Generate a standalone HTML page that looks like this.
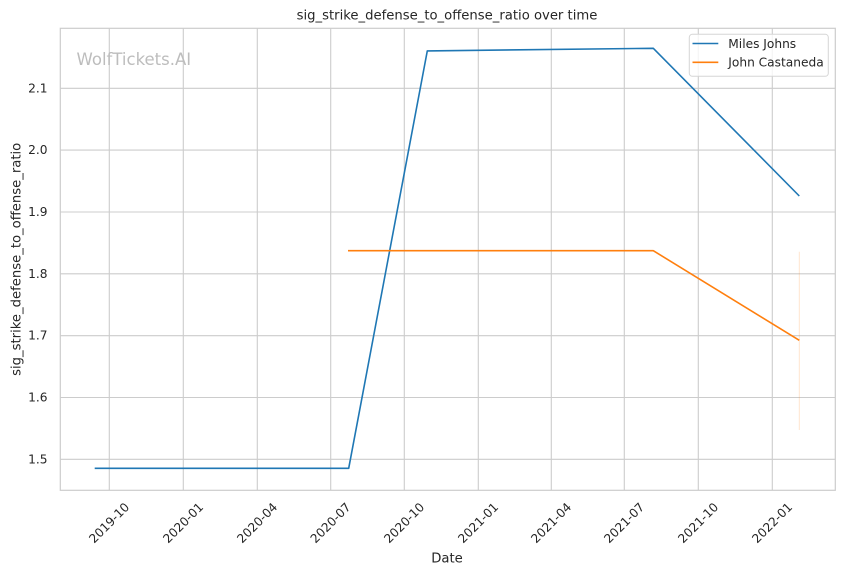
<!DOCTYPE html>
<html>
<head>
<meta charset="utf-8">
<style>
  html, body { margin: 0; padding: 0; background: #ffffff; }
  svg { display: block; }
  text { font-family: "DejaVu Sans", "Liberation Sans", sans-serif; fill: #262626; }
</style>
</head>
<body>
<svg width="844" height="575" viewBox="0 0 844 575" xmlns="http://www.w3.org/2000/svg">
  <rect x="0" y="0" width="844" height="575" fill="#ffffff"/>

  <!-- grid -->
  <g stroke="#cccccc" stroke-width="1.1" fill="none">
    <line x1="109.3" y1="28.3" x2="109.3" y2="490.3"/>
    <line x1="183.3" y1="28.3" x2="183.3" y2="490.3"/>
    <line x1="257.3" y1="28.3" x2="257.3" y2="490.3"/>
    <line x1="330.7" y1="28.3" x2="330.7" y2="490.3"/>
    <line x1="404.3" y1="28.3" x2="404.3" y2="490.3"/>
    <line x1="478.3" y1="28.3" x2="478.3" y2="490.3"/>
    <line x1="551.3" y1="28.3" x2="551.3" y2="490.3"/>
    <line x1="624.3" y1="28.3" x2="624.3" y2="490.3"/>
    <line x1="698.3" y1="28.3" x2="698.3" y2="490.3"/>
    <line x1="772.3" y1="28.3" x2="772.3" y2="490.3"/>

    <line x1="60.3" y1="88.3" x2="835.3" y2="88.3"/>
    <line x1="60.3" y1="150.1" x2="835.3" y2="150.1"/>
    <line x1="60.3" y1="212" x2="835.3" y2="212"/>
    <line x1="60.3" y1="273.8" x2="835.3" y2="273.8"/>
    <line x1="60.3" y1="335.7" x2="835.3" y2="335.7"/>
    <line x1="60.3" y1="397.5" x2="835.3" y2="397.5"/>
    <line x1="60.3" y1="459.3" x2="835.3" y2="459.3"/>
  </g>

  <!-- watermark -->
  <text x="76.5" y="65" font-size="16.5" style="fill:#bdbdbd">WolfTickets.AI</text>

  <!-- faint band -->
  <line x1="799.3" y1="251.7" x2="799.3" y2="430" stroke="#ff7f0e" stroke-opacity="0.2" stroke-width="1"/>

  <!-- series -->
  <polyline fill="none" stroke="#1f77b4" stroke-width="1.6" stroke-linejoin="round"
    points="94.7,468.3 348.7,468.3 427.3,50.9 653.3,48.3 799.3,196"/>
  <polyline fill="none" stroke="#ff7f0e" stroke-width="1.6" stroke-linejoin="round"
    points="348,250.7 653.3,250.7 799.3,340.3"/>

  <!-- spines -->
  <rect x="60.3" y="28.3" width="775" height="462" fill="none" stroke="#cccccc" stroke-width="1.2"/>

  <!-- y tick labels -->
  <g font-size="12.2" text-anchor="end" dominant-baseline="central">
    <text x="47.5" y="88.3">2.1</text>
    <text x="47.5" y="150.1">2.0</text>
    <text x="47.5" y="212">1.9</text>
    <text x="47.5" y="273.8">1.8</text>
    <text x="47.5" y="335.7">1.7</text>
    <text x="47.5" y="397.5">1.6</text>
    <text x="47.5" y="459.3">1.5</text>
  </g>

  <!-- x tick labels -->
  <g font-size="12.2" text-anchor="middle" dominant-baseline="central">
    <text x="109.3" y="523" transform="rotate(-45 109.3 523)">2019-10</text>
    <text x="183.3" y="523" transform="rotate(-45 183.3 523)">2020-01</text>
    <text x="257.3" y="523" transform="rotate(-45 257.3 523)">2020-04</text>
    <text x="330.7" y="523" transform="rotate(-45 330.7 523)">2020-07</text>
    <text x="404.3" y="523" transform="rotate(-45 404.3 523)">2020-10</text>
    <text x="478.3" y="523" transform="rotate(-45 478.3 523)">2021-01</text>
    <text x="551.3" y="523" transform="rotate(-45 551.3 523)">2021-04</text>
    <text x="624.3" y="523" transform="rotate(-45 624.3 523)">2021-07</text>
    <text x="698.3" y="523" transform="rotate(-45 698.3 523)">2021-10</text>
    <text x="772.3" y="523" transform="rotate(-45 772.3 523)">2022-01</text>
  </g>

  <!-- axis labels -->
  <text x="447" y="562.5" font-size="13.2" text-anchor="middle">Date</text>
  <text x="0" y="0" font-size="13.2" text-anchor="middle" transform="translate(20.5 259.3) rotate(-90)">sig_strike_defense_to_offense_ratio</text>

  <!-- title -->
  <text x="447" y="19.5" font-size="13.2" text-anchor="middle">sig_strike_defense_to_offense_ratio over time</text>

  <!-- legend -->
  <rect x="689.3" y="34.3" width="139" height="42" rx="3" ry="3" fill="#ffffff" fill-opacity="0.8" stroke="#d6d6d6" stroke-width="1"/>
  <line x1="692.5" y1="43.5" x2="718.3" y2="43.5" stroke="#1f77b4" stroke-width="1.6"/>
  <line x1="692.5" y1="62.3" x2="718.3" y2="62.3" stroke="#ff7f0e" stroke-width="1.6"/>
  <g font-size="12.2" dominant-baseline="central">
    <text x="728.3" y="43.8">Miles Johns</text>
    <text x="728.3" y="62.6">John Castaneda</text>
  </g>
</svg>
</body>
</html>
